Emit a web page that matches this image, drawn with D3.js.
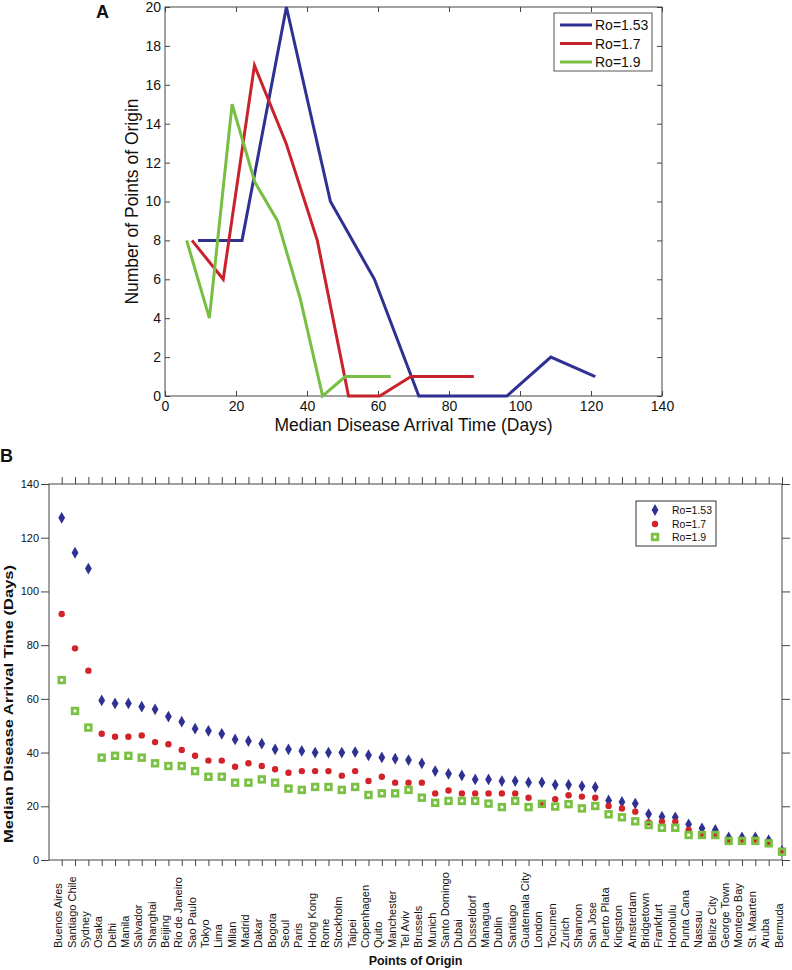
<!DOCTYPE html>
<html>
<head>
<meta charset="utf-8">
<script src="https://cdn.jsdelivr.net/npm/d3@7"></script>
<style>
  html, body { margin: 0; padding: 0; background: #fff; }
  svg { display: block; font-family: "Liberation Sans", Arial, sans-serif; }
</style>
</head>
<body>
<svg id="chart" width="792" height="970"></svg>
<script>
// ---------- Panel A data ----------
const seriesNames = ["Ro=1.53", "Ro=1.7", "Ro=1.9"];
const seriesColors = ["#2E3192", "#C8232C", "#77BE43"];

const histX153 = [9.3, 21.7, 34.2, 46.6, 59.0, 71.5, 83.9, 96.3, 108.7, 121.2];
const histY153 = [8, 8, 20, 10, 6, 0, 0, 0, 2, 1];
const histX17  = [7.6, 16.4, 25.2, 34.1, 42.9, 51.7, 60.5, 69.3, 78.2, 87.0];
const histY17  = [8, 6, 17, 13, 8, 0, 0, 1, 1, 1];
const histX19  = [6.1, 12.5, 18.9, 25.3, 31.7, 38.1, 44.4, 50.8, 57.2, 63.6];
const histY19  = [8, 4, 15, 11, 9, 5, 0, 1, 1, 1];

const aXTicks = [0, 20, 40, 60, 80, 100, 120, 140];
const aYTicks = [0, 2, 4, 6, 8, 10, 12, 14, 16, 18, 20];

// ---------- Panel B data ----------
const categories = ["Buenos Aires", "Santiago Chile", "Sydney", "Osaka", "Delhi", "Manila", "Salvador",
  "Shanghai", "Beijing", "Rio de Janeiro", "Sao Paulo", "Tokyo", "Lima", "Milan", "Madrid", "Dakar",
  "Bogota", "Seoul", "Paris", "Hong Kong", "Rome", "Stockholm", "Taipei", "Copenhagen", "Quito",
  "Manchester", "Tel Aviv", "Brussels", "Munich", "Santo Domingo", "Dubai", "Dusseldorf", "Managua",
  "Dublin", "Santiago", "Guatemala City", "London", "Tocumen", "Zurich", "Shannon", "San Jose",
  "Puerto Plata", "Kingston", "Amsterdam", "Bridgetown", "Frankfurt", "Honolulu", "Punta Cana",
  "Nassau", "Belize City", "George Town", "Montego Bay", "St. Maarten", "Aruba", "Bermuda"];

const arr153 = [127.4, 114.4, 108.5, 59.4, 58.3, 58.3, 57.1, 56.1, 53.4, 51.5, 48.9, 48.1, 47.0, 44.9,
  44.3, 43.3, 41.2, 41.2, 40.6, 40.0, 40.0, 40.0, 40.2, 39.0, 38.2, 37.7, 37.2, 36.0, 33.1, 32.1, 31.5,
  30.0, 30.0, 29.4, 29.4, 28.9, 28.9, 28.0, 28.0, 27.5, 27.1, 22.2, 21.6, 21.0, 17.1, 16.1, 15.9, 13.3,
  11.8, 11.2, 8.4, 8.4, 8.4, 7.4, 3.4];
const arr17 = [91.6, 78.8, 70.5, 47.0, 45.9, 45.9, 46.4, 43.9, 43.1, 41.0, 38.8, 37.0, 37.0, 34.7,
  36.0, 35.0, 33.8, 32.5, 33.1, 33.1, 33.1, 31.4, 33.1, 29.4, 31.0, 28.8, 28.8, 28.8, 24.8, 25.9, 24.8,
  24.8, 24.8, 24.8, 24.8, 23.2, 21.0, 22.6, 24.1, 23.6, 23.2, 20.1, 19.2, 18.0, 14.0, 14.3, 14.3, 11.2,
  9.3, 9.3, 7.1, 7.1, 7.5, 6.2, 3.1];
const arr19 = [67.0, 55.5, 49.3, 38.1, 38.8, 38.8, 38.1, 36.0, 35.0, 35.0, 33.1, 31.0, 31.0, 28.8,
  28.8, 30.0, 28.8, 26.6, 26.1, 27.2, 27.2, 26.1, 27.2, 24.2, 24.8, 24.8, 26.1, 23.2, 21.3, 22.0, 22.0,
  22.0, 21.0, 19.7, 22.0, 19.7, 20.9, 19.9, 20.8, 19.2, 20.1, 17.0, 15.9, 14.4, 13.0, 12.0, 12.0, 9.3,
  9.3, 9.3, 7.1, 7.1, 7.1, 6.2, 3.1];

const bYTicks = [0, 20, 40, 60, 80, 100, 120, 140];

// ---------- Drawing ----------
const svg = d3.select("#chart");
const axisColor = "#444";

// ===== Panel A =====
const A = { left: 165, right: 662, top: 7, bottom: 396 };
const xA = d3.scaleLinear().domain([0, 140]).range([A.left, A.right]);
const yA = d3.scaleLinear().domain([0, 20]).range([A.bottom, A.top]);
const gA = svg.append("g");

gA.append("text").attr("x", 96).attr("y", 18).attr("font-size", 18).attr("font-weight", "bold")
  .attr("fill", "#111").text("A");

function styleAxis(g) {
  g.selectAll(".domain").remove();
  g.selectAll(".tick line").attr("stroke", axisColor);
  g.selectAll(".tick text").attr("fill", "#111").attr("font-family", "Liberation Sans, Arial, sans-serif");
}

gA.append("g").attr("transform", `translate(0,${A.bottom})`)
  .call(d3.axisBottom(xA).tickValues(aXTicks).tickSize(-5).tickPadding(5).tickFormat(d3.format("d")))
  .call(styleAxis).call(g => g.selectAll(".tick text").attr("font-size", 14));
gA.append("g").attr("transform", `translate(0,${A.top})`)
  .call(d3.axisTop(xA).tickValues(aXTicks).tickSize(-5).tickFormat(""))
  .call(styleAxis);
gA.append("g").attr("transform", `translate(${A.left},0)`)
  .call(d3.axisLeft(yA).tickValues(aYTicks).tickSize(-5).tickPadding(4).tickFormat(d3.format("d")))
  .call(styleAxis).call(g => g.selectAll(".tick text").attr("font-size", 14));
gA.append("g").attr("transform", `translate(${A.right},0)`)
  .call(d3.axisRight(yA).tickValues(aYTicks).tickSize(-5).tickFormat(""))
  .call(styleAxis);

gA.append("rect").attr("x", A.left).attr("y", A.top).attr("width", A.right - A.left)
  .attr("height", A.bottom - A.top).attr("fill", "none").attr("stroke", axisColor).attr("stroke-width", 1);

const histSeries = [
  histX153.map((x, i) => [x, histY153[i]]),
  histX17.map((x, i) => [x, histY17[i]]),
  histX19.map((x, i) => [x, histY19[i]])
];
const lineA = d3.line().x(d => xA(d[0])).y(d => yA(d[1]));
histSeries.forEach((s, i) => {
  gA.append("path").attr("d", lineA(s)).attr("fill", "none")
    .attr("stroke", seriesColors[i]).attr("stroke-width", 3).attr("stroke-linejoin", "miter");
});

gA.append("text").attr("x", (A.left + A.right) / 2).attr("y", 431).attr("text-anchor", "middle")
  .attr("font-size", 17.5).attr("fill", "#111").text("Median Disease Arrival Time (Days)");
gA.append("text").attr("transform", `translate(138,${(A.top + A.bottom) / 2}) rotate(-90)`)
  .attr("text-anchor", "middle").attr("font-size", 17.5).attr("fill", "#111").text("Number of Points of Origin");

// legend A
const legA = gA.append("g");
legA.append("rect").attr("x", 554).attr("y", 13).attr("width", 98).attr("height", 58)
  .attr("fill", "#fff").attr("stroke", "#555");
seriesNames.forEach((n, i) => {
  const yy = 25 + i * 18.5;
  legA.append("line").attr("x1", 560).attr("x2", 592).attr("y1", yy).attr("y2", yy)
    .attr("stroke", seriesColors[i]).attr("stroke-width", 3);
  legA.append("text").attr("x", 595).attr("y", yy + 5).attr("font-size", 14).attr("fill", "#111").text(n);
});

// ===== Panel B =====
const B = { left: 49, right: 782, top: 484, bottom: 860 };
const xB = d3.scalePoint().domain(categories).range([61.7, 782]);
const yB = d3.scaleLinear().domain([0, 140]).range([B.bottom, B.top]);
const gB = svg.append("g");

gB.append("text").attr("x", 0).attr("y", 462).attr("font-size", 18).attr("font-weight", "bold")
  .attr("fill", "#111").text("B");

gB.append("g").attr("transform", `translate(0,${B.top})`)
  .call(d3.axisTop(xB).tickSize(7).tickFormat("")).call(styleAxis);
gB.append("g").attr("transform", `translate(0,${B.bottom})`)
  .call(d3.axisBottom(xB).tickSize(6).tickFormat("")).call(styleAxis);
gB.append("g").attr("transform", `translate(${B.left},0)`)
  .call(d3.axisLeft(yB).tickValues(bYTicks).tickSize(8).tickPadding(2).tickFormat(d3.format("d")))
  .call(styleAxis).call(g => g.selectAll(".tick text").attr("font-size", 11));
gB.append("g").attr("transform", `translate(${B.right},0)`)
  .call(d3.axisRight(yB).tickValues(bYTicks).tickSize(8).tickFormat("")).call(styleAxis);

gB.append("rect").attr("x", B.left).attr("y", B.top).attr("width", B.right - B.left)
  .attr("height", B.bottom - B.top).attr("fill", "none").attr("stroke", axisColor);

// category labels
gB.append("g").selectAll("text").data(categories).join("text")
  .attr("transform", d => `translate(${xB(d) + 0.5},948) rotate(-90)`)
  .attr("text-anchor", "start").attr("font-size", 11).attr("fill", "#111").text(d => d);

// markers
const diamond = d3.symbol().type(d3.symbolDiamond).size(40);
gB.append("g").selectAll("path").data(arr153).join("path")
  .attr("d", diamond).attr("transform", (d, i) => `translate(${xB(categories[i])},${yB(d)})`)
  .attr("fill", seriesColors[0]);
gB.append("g").selectAll("circle").data(arr17).join("circle")
  .attr("cx", (d, i) => xB(categories[i])).attr("cy", d => yB(d)).attr("r", 3.2)
  .attr("fill", "#D2232A");
gB.append("g").selectAll("rect").data(arr19).join("rect")
  .attr("x", (d, i) => xB(categories[i]) - 2.8).attr("y", d => yB(d) - 2.8)
  .attr("width", 5.6).attr("height", 5.6).attr("fill", "none")
  .attr("stroke", "#7AC143").attr("stroke-width", 2.8);

// axis titles
gB.append("text").attr("x", (B.left + B.right) / 2).attr("y", 965).attr("text-anchor", "middle")
  .attr("font-size", 12.5).attr("font-weight", "bold").attr("fill", "#111").text("Points of Origin");
gB.append("text").attr("transform", `translate(13,704) rotate(-90)`).attr("text-anchor", "middle")
  .attr("font-size", 12.5).attr("font-weight", "bold").attr("fill", "#111")
  .attr("textLength", 278).attr("lengthAdjust", "spacingAndGlyphs")
  .text("Median Disease Arrival Time (Days)");

// legend B
const legB = gB.append("g");
legB.append("rect").attr("x", 636).attr("y", 501).attr("width", 80).attr("height", 45)
  .attr("fill", "#fff").attr("stroke", "#333");
legB.append("path").attr("d", diamond).attr("transform", "translate(655,510)").attr("fill", seriesColors[0]);
legB.append("circle").attr("cx", 655).attr("cy", 524).attr("r", 3.2).attr("fill", "#D2232A");
legB.append("rect").attr("x", 652.2).attr("y", 534.2).attr("width", 5.6).attr("height", 5.6)
  .attr("fill", "none").attr("stroke", "#7AC143").attr("stroke-width", 2.8);
seriesNames.forEach((n, i) => {
  legB.append("text").attr("x", 672).attr("y", [510, 524, 537][i] + 3.8).attr("font-size", 10.5)
    .attr("fill", "#111").text(n);
});
</script>
</body>
</html>
